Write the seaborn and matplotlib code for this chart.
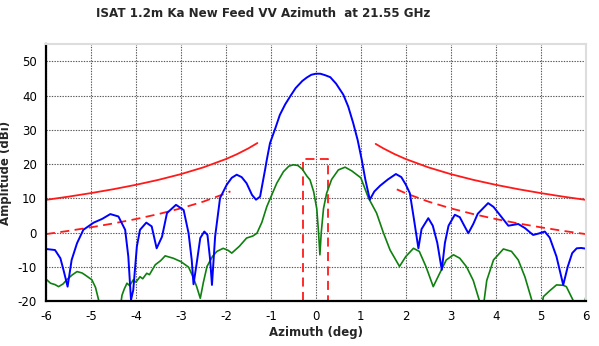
import numpy as np
import pandas as pd
import matplotlib
matplotlib.use("Agg")
import matplotlib.pyplot as plt
import seaborn as sns

# Co-polar (VV) azimuth cut, dBi
co_az = [-6.0, -5.8, -5.68, -5.6, -5.52, -5.43, -5.31, -5.17, -4.94, -4.75, -4.57, -4.39,
         -4.24, -4.17, -4.11, -4.06, -3.98, -3.91, -3.77, -3.65, -3.54, -3.42, -3.31,
         -3.11, -2.94, -2.83, -2.76, -2.72, -2.65, -2.57, -2.48, -2.41, -2.35, -2.31,
         -2.24, -2.13, -1.98, -1.87, -1.76, -1.65, -1.54, -1.42, -1.33, -1.24, -1.13,
         -1.09, -1.02, -0.9, -0.8, -0.68, -0.57, -0.45, -0.3, -0.2, -0.1, 0.0, 0.1,
         0.2, 0.32, 0.45, 0.61, 0.72, 0.83, 0.93, 1.02, 1.1, 1.2, 1.3, 1.43, 1.6,
         1.78, 1.9, 2.0, 2.09, 2.18, 2.28, 2.35, 2.5, 2.6, 2.7, 2.8, 2.87, 2.95,
         3.09, 3.2, 3.3, 3.39, 3.5, 3.6, 3.83, 3.95, 4.1, 4.28, 4.5, 4.65, 4.83,
         4.95, 5.09, 5.2, 5.35, 5.5, 5.6, 5.7, 5.8, 5.9, 6.0]
co_db = [-4.8, -5.1, -7.5, -11.5, -15.8, -8.0, -3.1, 0.8, 2.9, 4.0, 5.4, 4.7,
         0.8, -7.0, -19.7, -16.8, -4.1, 0.8, 2.9, 1.8, -4.6, -1.2, 5.7,
         8.1, 6.6, -0.2, -8.0, -15.1, -9.0, -1.6, 0.3, -0.7, -8.0, -15.3,
         -1.2, 10.1, 14.0, 16.0, 16.9, 16.2, 14.4, 11.0, 9.6, 10.5, 18.3,
         21.3, 26.1, 30.5, 34.4, 37.5, 39.8, 42.2, 44.3, 45.3, 46.1, 46.4, 46.4,
         46.0, 45.4, 43.5, 40.3, 36.8, 32.0, 27.0, 21.3, 15.5, 9.6, 12.0, 13.7, 15.5,
         17.1, 16.2, 14.0, 11.5, 4.0, -4.6, 1.0, 4.2, 2.0, -3.0, -10.9, -3.0, 2.0,
         5.2, 4.5, 2.0, -0.2, 2.5, 5.5, 8.6, 7.5, 5.0, 2.0, 2.5, 1.3, -0.7,
         -0.3, 0.3, -1.5, -7.0, -15.3, -10.0, -6.0, -4.6, -4.5, -4.7]

# Cross-polar azimuth cut, dBi
xp_az = [-6.0, -5.9, -5.8, -5.72, -5.62, -5.54, -5.42, -5.31, -5.2, -5.13, -4.98, -4.9,
         -4.83, -4.7, -4.5, -4.35, -4.31, -4.26, -4.2, -4.14, -4.06, -4.0, -3.91,
         -3.85, -3.76, -3.7, -3.57, -3.45, -3.35, -3.25, -3.17, -3.0, -2.83, -2.75,
         -2.65, -2.57, -2.5, -2.42, -2.3, -2.2, -2.06, -1.95, -1.87, -1.7, -1.54,
         -1.4, -1.31, -1.2, -1.09, -0.98, -0.87, -0.72, -0.6, -0.5, -0.4, -0.3, -0.2,
         -0.13, -0.05, 0.02, 0.06, 0.09, 0.12, 0.17, 0.24, 0.35, 0.5, 0.65, 0.8, 1.0,
         1.17, 1.35, 1.5, 1.65, 1.86, 2.0, 2.17, 2.3, 2.45, 2.61, 2.75, 2.9, 3.06,
         3.2, 3.35, 3.5, 3.65, 3.72, 3.8, 3.95, 4.17, 4.35, 4.5, 4.65, 4.8, 4.9,
         5.0, 5.06, 5.2, 5.35, 5.5, 5.57, 5.72, 5.8, 5.95, 6.0]
xp_db = [-13.6, -14.8, -15.2, -15.8, -15.0, -13.8, -12.4, -11.4, -11.8, -12.4, -13.8, -16.0,
         -19.7, -24.0, -26.0, -22.0, -18.3, -16.5, -14.8, -15.5, -13.8, -14.5, -12.9,
         -13.5, -11.9, -12.3, -9.4, -8.2, -6.8, -7.2, -7.5, -8.5, -10.1, -12.4,
         -15.8, -19.2, -14.5, -9.9, -7.0, -5.5, -4.6, -5.2, -6.0, -4.0, -1.6,
         -1.0, -0.2, 3.0, 7.6, 11.0, 14.4, 17.8, 19.4, 19.8, 19.6, 18.5, 16.5,
         15.4, 12.0, 7.0, 0.0, -6.5, 0.0, 7.0, 11.5, 15.5, 18.3, 19.1, 18.0, 16.0,
         10.1, 5.7, 0.0, -5.1, -9.9, -7.0, -4.6, -5.5, -10.0, -15.8, -12.0, -8.0, -6.5,
         -7.5, -10.0, -14.0, -20.5, -22.0, -14.0, -8.0, -4.8, -5.5, -8.0, -13.0, -19.7, -24.0,
         -23.0, -18.7, -17.0, -15.3, -15.4, -15.8, -19.8, -23.0, -22.0, -19.0]

# Sidelobe envelope masks (solid: co-polar, dashed: cross-polar)
mask_left_az = [-6.0, -5.5, -5.0, -4.5, -4.0, -3.5, -3.0, -2.5, -2.0, -1.75, -1.5, -1.3]
mask_left_db = [9.55, 10.49, 11.53, 12.67, 13.95, 15.40, 17.07, 19.05, 21.47, 22.92, 24.60, 26.15]
mask_right_az = [1.33, 1.5, 1.75, 2.0, 2.5, 3.0, 3.5, 4.0, 4.5, 5.0, 5.5, 6.0]
mask_right_db = [25.90, 24.60, 22.92, 21.47, 19.05, 17.07, 15.40, 13.95, 12.67, 11.53, 10.49, 9.55]

xmask_left_az = [-6.0, -5.5, -5.0, -4.5, -4.0, -3.5, -3.0, -2.5, -2.0, -1.9]
xmask_left_db = [-0.45, 0.49, 1.53, 2.67, 3.95, 5.40, 7.07, 9.05, 11.47, 12.03]
xmask_right_az = [1.8, 2.0, 2.5, 3.0, 3.5, 4.0, 4.5, 5.0, 5.5, 6.0]
xmask_right_db = [12.62, 11.47, 9.05, 7.07, 5.40, 3.95, 2.67, 1.53, 0.49, -0.45]

# Cross-polar on-axis window
win_az = [-0.28, -0.28, 0.28, 0.28]
win_db = [-20.0, 21.5, 21.5, -20.0]

xticks = [-6, -5, -4, -3, -2, -1, 0, 1, 2, 3, 4, 5, 6]
yticks = [-20, -10, 0, 10, 20, 30, 40, 50]

sns.set_theme(style="white")
plt.rcParams['font.family'] = ['DejaVu Sans']

fig = plt.figure(figsize=(5.99, 3.46), dpi=100)
ax = fig.add_axes([0.0768, 0.130, 0.9010, 0.742])

RED = "#ff1a1a"
for xs, ys in [(mask_left_az, mask_left_db), (mask_right_az, mask_right_db)]:
    sns.lineplot(x=xs, y=ys, ax=ax, color=RED, lw=1.3, estimator=None, sort=False)
for xs, ys in [(xmask_left_az, xmask_left_db), (xmask_right_az, xmask_right_db)]:
    sns.lineplot(x=xs, y=ys, ax=ax, color=RED, lw=1.3, estimator=None, sort=False,
                 linestyle=(0, (5, 3)))
sns.lineplot(x=win_az, y=win_db, ax=ax, color=RED, lw=1.3, estimator=None, sort=False,
             linestyle=(0, (5, 3)))
sns.lineplot(x=xp_az, y=xp_db, ax=ax, color="#0f800f", lw=1.2, estimator=None, sort=False)
sns.lineplot(x=co_az, y=co_db, ax=ax, color="#0000ff", lw=1.4, estimator=None, sort=False)

ax.set_xlim(-6, 6)
ax.set_ylim(-20, 55)
ax.set_xticks(xticks)
ax.set_yticks(yticks)
ax.set_xticklabels([str(t) for t in xticks])
ax.set_yticklabels([str(t) for t in yticks])
ax.tick_params(axis="both", labelsize=8.5, length=3.5, width=0.8, color="black",
               direction="out", pad=3, labelcolor="black")
ax.grid(True, color="#555555", linestyle=(0, (1.2, 1.2)), linewidth=0.8)
ax.set_axisbelow(True)

for side in ["left", "bottom"]:
    ax.spines[side].set_color("black")
    ax.spines[side].set_linewidth(1.6)
for side in ["top", "right"]:
    ax.spines[side].set_color("#dddddd")
    ax.spines[side].set_linewidth(1.5)

ax.set_xlabel("Azimuth (deg)", fontsize=8.5, fontweight="bold", labelpad=2)
ax.set_ylabel("Amplitude (dBi)", fontsize=8.5, fontweight="bold", labelpad=4)
fig.text(0.439, 0.962, "ISAT 1.2m Ka New Feed VV Azimuth  at 21.55 GHz",
         ha="center", va="center", fontsize=8.6, fontweight="bold")

fig.savefig("out.png", dpi=100, facecolor="white")
